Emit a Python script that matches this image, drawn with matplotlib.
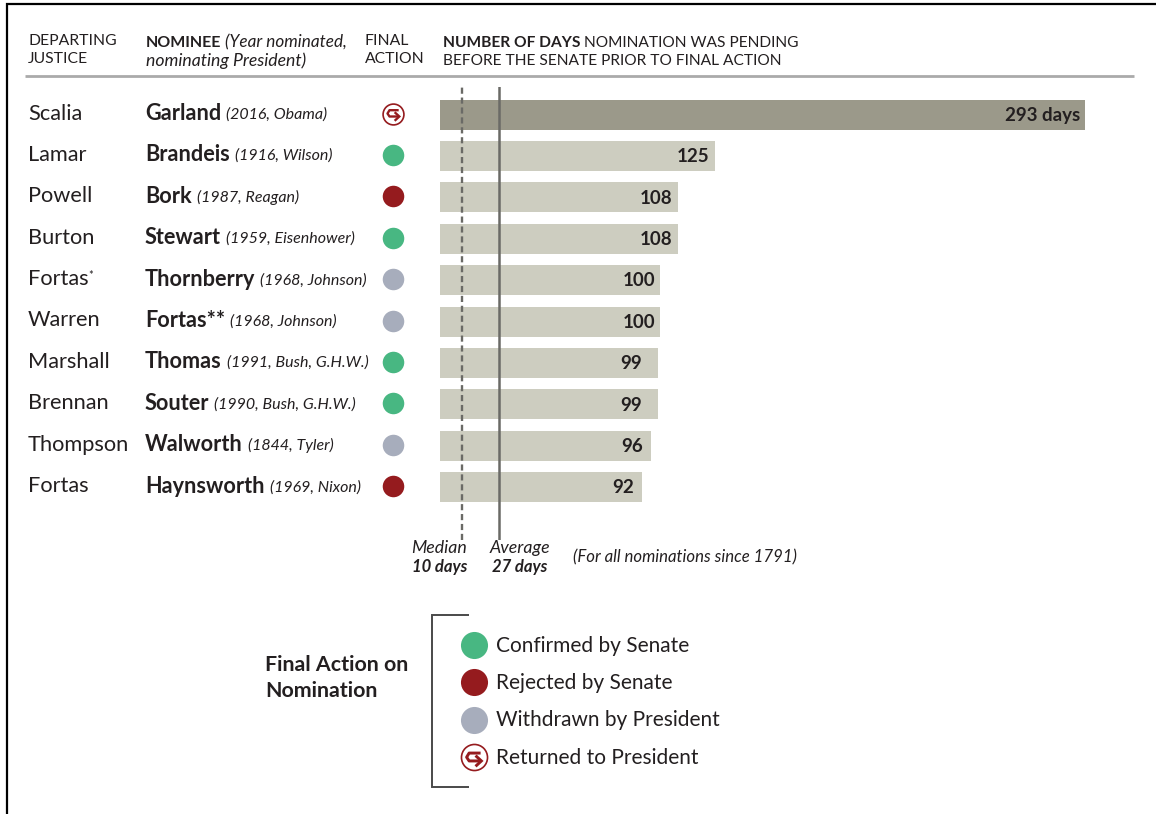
# Supreme Court nominations: days pending before the Senate
import matplotlib
matplotlib.use('Agg')
import matplotlib.pyplot as plt

plt.rcParams['font.family'] = ['Lato', 'DejaVu Sans']

# Data
justices = ['Scalia', 'Lamar', 'Powell', 'Burton', 'Fortas', 'Warren',
            'Marshall', 'Brennan', 'Thompson', 'Fortas']
nominees = ['Garland', 'Brandeis', 'Bork', 'Stewart', 'Thornberry', 'Fortas**',
            'Thomas', 'Souter', 'Walworth', 'Haynsworth']
details = ['(2016, Obama)', '(1916, Wilson)', '(1987, Reagan)', '(1959, Eisenhower)',
           '(1968, Johnson)', '(1968, Johnson)', '(1991, Bush, G.H.W.)',
           '(1990, Bush, G.H.W.)', '(1844, Tyler)', '(1969, Nixon)']
actions = ['returned', 'confirmed', 'rejected', 'confirmed', 'withdrawn', 'withdrawn',
           'confirmed', 'confirmed', 'withdrawn', 'rejected']
days = [293, 125, 108, 108, 100, 100, 99, 99, 96, 92]
median_days = 10
average_days = 27
legend_keys = ['confirmed', 'rejected', 'withdrawn', 'returned']
legend_labels = ['Confirmed by Senate', 'Rejected by Senate',
                 'Withdrawn by President', 'Returned to President']

W, H = 1156, 814
TEXT = '#231f20'
GREEN = '#48b782'
RED = '#951b1e'
GREY = '#a7adbc'
colors = {'confirmed': GREEN, 'rejected': RED, 'withdrawn': GREY}

fig = plt.figure(figsize=(W / 100, H / 100), dpi=100, facecolor='white')

# page axes in pixels, for all the text and furniture
page = fig.add_axes([0, 0, 1, 1])
page.set_xlim(0, W)
page.set_ylim(H, 0)
page.axis('off')

ROW0, STEP = 114.5, 41.4
PX_PER_DAY = 2.2
BAR_X = 440
TOP, BOTTOM = 87, 540

# bar axes, lined up with the rows
ax = fig.add_axes([BAR_X / W, 1 - BOTTOM / H, 700 / W, (BOTTOM - TOP) / H])
ax.set_xlim(0, 700 / PX_PER_DAY)
ax.set_ylim((BOTTOM - ROW0) / STEP, (TOP - ROW0) / STEP)
ax.axis('off')
ax.patch.set_alpha(0)

rows = list(range(len(days)))
bar_colors = ['#9b998a'] + ['#cdcdc0'] * (len(days) - 1)
ax.barh(rows, days, height=30 / STEP, color=bar_colors, zorder=1)
ax.axvline(median_days, color='#6a6a66', lw=1.7, ls=(0, (2.6, 1.6)), zorder=2)
ax.axvline(average_days, color='#6a6a66', lw=1.8, zorder=2)

# the labels do not sit a fixed distance from the bar ends in the original
label_pad = [4.5, 6, 5, 5, 5, 5, 16, 16, 8, 8]
for r, d in zip(rows, days):
    label = f'{d} days' if r == 0 else str(d)
    ax.text(d - label_pad[r] / PX_PER_DAY, r + 0.02, label, ha='right', va='center',
            fontsize=13.5, fontweight='bold', color=TEXT, zorder=3)


def return_icon(x, y, scale=1.0):
    page.plot([x], [y], 'o', ms=15 * scale, mfc='white', mec=RED, mew=1.2)
    # hook running back to the left, then out to the right
    xs = [x + 4.5 * scale, x - 3.5 * scale, x - 5.5 * scale, x - 3.5 * scale, x + 4.5 * scale]
    ys = [y - 3.3 * scale, y - 3.3 * scale, y, y + 3.0 * scale, y + 3.0 * scale]
    page.plot(xs, ys, color=RED, lw=1.7 * scale, solid_joinstyle='round')
    # arrow head
    page.plot([x + 2.5 * scale, x + 6.3 * scale, x + 2.5 * scale],
              [y - 0.5 * scale, y + 3.0 * scale, y + 6.5 * scale],
              color=RED, lw=1.7 * scale, solid_joinstyle='miter')


def action_mark(key, x, y, ms, scale=1.0):
    if key == 'returned':
        return_icon(x, y, scale)
    else:
        page.plot([x], [y], 'o', ms=ms, mfc=colors[key], mec='none')


fig.canvas.draw()
rend = fig.canvas.get_renderer()

for i in rows:
    y = ROW0 + STEP * i
    page.text(28, y - 1, justices[i], fontsize=15.7, color=TEXT, ha='left', va='center')
    t = page.text(145, y - 1, nominees[i], fontsize=15.6, fontweight='bold', color=TEXT,
                  ha='left', va='center')
    x1 = t.get_window_extent(rend).x1
    page.text(x1 + 5, y, details[i], fontsize=11.5, style='italic', color=TEXT,
              ha='left', va='center')
    action_mark(actions[i], 393, y - 1, 15.5)

# asterisk on the first Fortas row
page.text(88.5, ROW0 + STEP * 4 - 5, '*', fontsize=8, color=TEXT, ha='left', va='center')

# header
page.text(28, 41, 'DEPARTING', fontsize=11.3, color=TEXT, va='center')
page.text(28, 59, 'JUSTICE', fontsize=11.3, color=TEXT, va='center')
t = page.text(146, 43, 'NOMINEE', fontsize=11.5, fontweight='bold', color=TEXT, va='center')
page.text(t.get_window_extent(rend).x1 + 4, 42, '(Year nominated,', fontsize=12.3,
          style='italic', color=TEXT, va='center')
page.text(146, 61, 'nominating President)', fontsize=12.7, style='italic', color=TEXT, va='center')
page.text(365, 41, 'FINAL', fontsize=11.3, color=TEXT, va='center')
page.text(365, 59, 'ACTION', fontsize=11.3, color=TEXT, va='center')
t = page.text(443, 43, 'NUMBER OF DAYS', fontsize=11.15, fontweight='bold', color=TEXT, va='center')
page.text(t.get_window_extent(rend).x1 + 4, 43, 'NOMINATION WAS PENDING', fontsize=11.15,
          color=TEXT, va='center')
page.text(443, 61, 'BEFORE THE SENATE PRIOR TO FINAL ACTION', fontsize=11.15, color=TEXT,
          va='center')
page.plot([25, 1134], [76, 76], color='#aaaaaa', lw=2, solid_capstyle='butt')

# median / average notes
page.text(439.5, 548, 'Median', fontsize=12.8, style='italic', color=TEXT, ha='center', va='center')
page.text(440, 567, '10 days', fontsize=12, style='italic', fontweight='bold', color=TEXT,
          ha='center', va='center')
page.text(520, 548, 'Average', fontsize=12.8, style='italic', color=TEXT, ha='center', va='center')
page.text(520, 567, '27 days', fontsize=12, style='italic', fontweight='bold', color=TEXT,
          ha='center', va='center')
page.text(573, 557, '(For all nominations since 1791)', fontsize=12.1, style='italic',
          color=TEXT, ha='left', va='center')

# legend
page.text(265, 665, 'Final Action on', fontsize=15.4, fontweight='bold', color=TEXT, va='center')
page.text(265, 691, 'Nomination', fontsize=15.4, fontweight='bold', color=TEXT, va='center')
page.plot([469, 432, 432, 469], [615, 615, 787, 787], color='#4a4a4a', lw=1.4,
          solid_joinstyle='miter', solid_capstyle='butt')
for k, (key, label) in enumerate(zip(legend_keys, legend_labels)):
    y = 645 + 37.4 * k
    action_mark(key, 473.5, y, 19.5, scale=1.25)
    page.text(496, y + 0.5, label, fontsize=15, color=TEXT, va='center')

# page border
page.plot([6.5, 6.5, W], [H, 3.5, 3.5], color='black', lw=1.6, solid_joinstyle='miter',
          solid_capstyle='butt')

fig.savefig('out.png', dpi=100)
